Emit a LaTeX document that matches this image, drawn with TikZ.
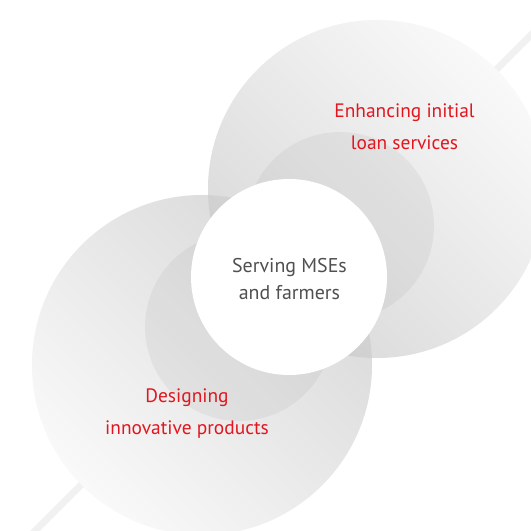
\documentclass[tikz,border=0pt]{standalone}
\usepackage{fontspec}
\setmainfont{PT Sans}
\definecolor{redtxt}{HTML}{E1161F}
\definecolor{graytxt}{HTML}{505050}
\definecolor{lightc}{HTML}{F5F5F5}
\definecolor{darkc}{HTML}{D9D9D9}
\definecolor{linec}{HTML}{F1F1F1}
\tikzset{
  label red/.style={text=redtxt, align=center, font=\fontsize{19.5}{32}\selectfont},
  label center/.style={text=graytxt, align=center, font=\fontsize{20}{28}\selectfont},
  inner disk/.style={fill=black, fill opacity=0.045},
}
\begin{document}
\begin{tikzpicture}[x=1bp,y=1bp]
\useasboundingbox (0,0) rectangle (531,-531);
\clip (0,0) rectangle (531,-531);
\fill[white] (0,0) rectangle (531,-531);
% diagonal line
\coordinate (d1) at (10,-556);
\coordinate (d2) at (556,-10);
\draw[linec, line width=7bp] (d1) -- (d2);
% big circles
\shade[top color=darkc, bottom color=lightc!60!white, shading angle=-45] (202,-365) circle (170);
\shade[top color=lightc!60!white, bottom color=darkc, shading angle=-45] (377,-189) circle (169);
% overlap
\begin{scope}
  \clip (202,-365) circle (170);
  \fill[black, fill opacity=0.05] (377,-189) circle (169);
\end{scope}
% inner circles
\fill[inner disk] (340,-226) circle (94);
\fill[inner disk] (239,-327) circle (94);
% center
\node[circle, fill=white, minimum size=196bp, inner sep=0pt] (c) at (289,-277) {};
\node[label center] (ct) at (289.5,-279) {Serving MSEs\\and farmers};
\node[label red] (tr) at (404.5,-127) {Enhancing initial\\loan services};
\node[label red] (bl) at (187,-414) {Designing\\innovative products};
\end{tikzpicture}
\end{document}
